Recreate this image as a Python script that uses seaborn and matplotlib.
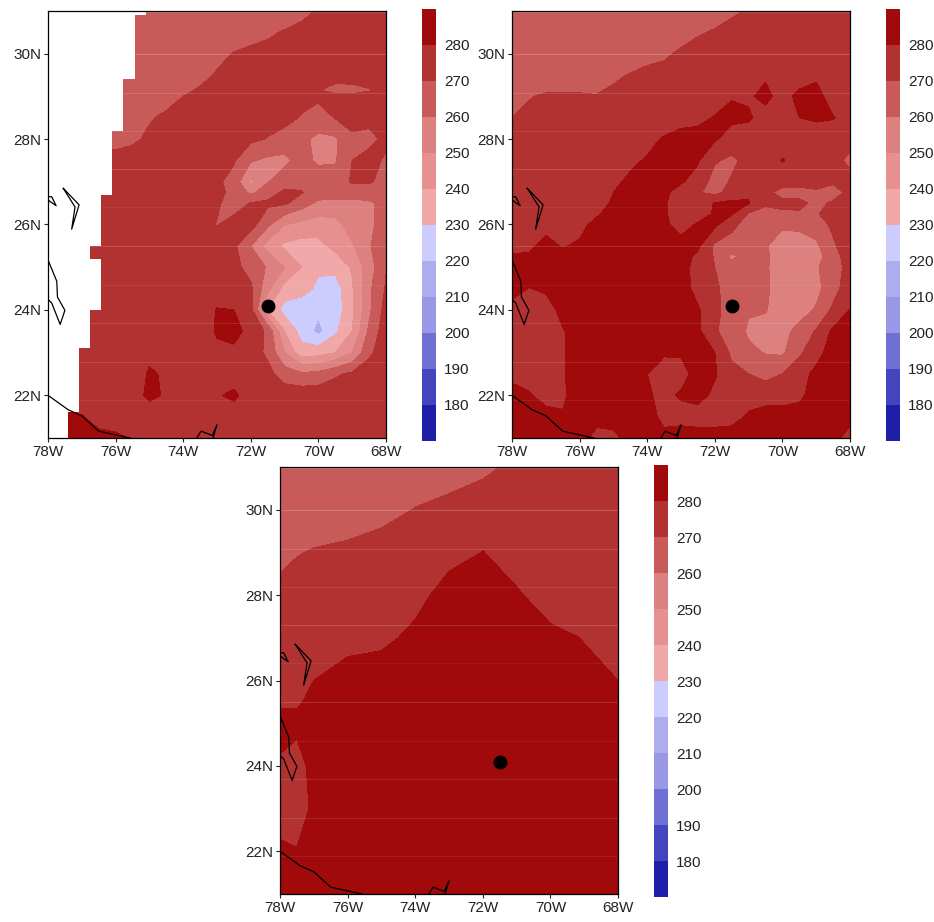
import matplotlib
matplotlib.use('Agg')
import matplotlib.pyplot as plt
import numpy as np
import seaborn as sns

levels = [170, 180, 190, 200, 210, 220, 230, 240, 250, 260, 270, 280, 290]
colors = ['#1e1ea8', '#4444bc', '#7070d4', '#9898e6', '#acacee', '#ccccff',
          '#f0a8a8', '#e69090', '#dc8080', '#c85a5a', '#b23232', '#a00a0a']
bar_ticks = [180, 190, 200, 210, 220, 230, 240, 250, 260, 270, 280]

lon_ticks = [-78, -76, -74, -72, -70, -68]
lon_labels = ['78W', '76W', '74W', '72W', '70W', '68W']
lat_ticks = [22, 24, 26, 28, 30]
lat_labels = ['22N', '24N', '26N', '28N', '30N']

storm_lon = -71.5
storm_lat = 24.1

lon_half = [-78, -77.5, -77, -76.5, -76, -75.5, -75, -74.5, -74, -73.5, -73,
            -72.5, -72, -71.5, -71, -70.5, -70, -69.5, -69, -68.5, -68]
lon_coarse = [-78, -77.5, -77, -76, -75, -74, -73, -72, -71, -70, -69, -68]

# panel 1
lat_a = [31, 30.5, 30, 29.5, 29.15, 29, 28.5, 28, 27.5, 27, 26.75, 26.5, 26, 25.5, 25,
         24.5, 24, 23.5, 23, 22.5, 22, 21.5, 21]
temp_a = [
    [265, 265, 265, 265, 265, 265, 265, 265, 265, 265, 265, 265, 265, 264, 263, 267, 271, 273, 274, 274, 274],
    [265, 265, 265, 265, 265, 265, 265, 265, 265, 265, 265, 265, 265, 268, 271, 273, 274, 274, 274, 274, 274],
    [265, 265, 265, 265, 265, 265, 265, 265, 265, 265, 267, 270.5, 273, 274, 274, 274, 274, 274, 274, 274, 274],
    [265, 265, 265, 265, 265, 265, 265, 265, 265, 267, 271, 273, 274, 274, 274, 274, 274, 274, 274, 274, 274],
    [265, 265, 265, 265, 265, 265, 265, 265.5, 268, 271, 272, 274, 274, 274, 274, 274, 270.5, 267, 267.5, 269.5, 273],
    [265, 265, 265, 265, 265, 265, 265, 266, 270, 272, 273, 274, 274, 274, 274, 274, 272, 272, 272, 272, 273],
    [265, 265, 265, 265, 265, 265, 269, 272, 274, 274, 274, 274, 274, 274, 274, 269, 265, 270.5, 273, 274, 274],
    [265, 265, 265, 265, 265, 268, 272, 275, 275, 275, 275, 275, 272, 269.5, 265, 262, 258, 258.5, 268.5, 266, 273],
    [275, 275, 275, 275, 275, 275, 275, 275, 275, 275, 275, 271, 261, 258, 258, 263, 258.5, 259, 270, 275, 268],
    [275, 275, 275, 275, 275, 275, 275, 275, 275, 275, 272, 266, 248, 259.5, 265, 268, 265, 265, 271, 271, 267],
    [275, 275, 275, 275, 275, 275, 275, 275, 275, 275, 273, 267, 258, 265, 272, 270.5, 265, 265, 265, 265, 267],
    [275, 275, 275, 275, 275, 275, 275, 275, 275, 275, 271.5, 265, 270.5, 272, 271.5, 265, 258, 257, 257, 258.5, 263],
    [275, 275, 275, 275, 275, 275, 275, 275, 275, 275, 269.5, 274, 274, 262, 250.5, 247, 245, 247, 254, 257, 266],
    [275, 275, 275, 275, 275, 275, 275, 275, 275, 275, 275, 272, 260, 246, 238, 236, 237, 243, 249, 259, 268],
    [275, 275, 275, 275, 275, 275, 275, 275, 275, 275, 275, 273, 266, 259, 250, 240, 231.5, 233, 241, 255, 269.5],
    [275, 275, 275, 275, 275, 275, 275, 275, 275, 275, 275, 275, 272, 253, 236, 234, 228, 225, 239, 258, 271],
    [275, 275, 275, 275, 275, 275, 275, 275, 275, 275, 280.5, 280, 273, 240, 226, 224, 222, 224, 238, 258, 274],
    [275, 275, 275, 275, 275, 275, 275, 275, 275, 275, 281, 283, 277, 268, 240, 226, 217, 228, 240, 262, 276],
    [275, 275, 275, 275, 275, 275, 278, 275, 275, 275, 278, 278, 275, 268, 250, 234, 236, 240, 250, 268, 276],
    [275, 275, 275, 275, 275, 275, 281, 279, 275, 275, 275, 275, 275, 273, 265, 262, 263, 268.5, 272, 275, 275],
    [275, 275, 275, 275, 275, 276, 282, 279, 275, 275, 279, 282, 275, 276, 276, 276, 276, 276, 276, 276, 276],
    [280, 282, 280.5, 276, 275, 275, 275, 275, 275, 275, 275, 275, 275, 275, 275, 275, 275, 275, 275, 275, 275],
    [285, 285, 285, 283, 282, 279, 275, 275, 275, 275, 275, 275, 275, 275, 275, 275, 275, 275, 275, 275, 275],
]

# panel 1 has no data west of this edge
missing_lat = [31, 30.9, 29.4, 28.2, 26.7, 25.5, 25.2, 24, 23.1, 21.6, 21]
missing_lon = [-75.1, -75.44, -75.77, -76.1, -76.43, -76.75, -76.43, -76.75, -77.08, -77.4, -77.4]

# panel 2
lat_b = [31, 30.5, 30, 29.5, 29, 28.5, 28, 27.5, 27, 26.75, 26.5, 26.25, 26, 25.5,
         25.25, 25, 24.5, 24, 23.5, 23, 22.5, 22, 21.5, 21]
temp_b = [
    [265, 265, 265, 265, 265, 265, 265, 265, 265, 265, 265, 265, 265, 268, 271, 274, 274, 274, 274, 274, 274],
    [265, 265, 265, 265, 265, 265, 265, 265, 265, 265, 265, 269, 271, 274, 274, 274, 274, 274, 274, 274, 274],
    [265, 265, 265, 265, 265, 265, 265, 265, 265, 268, 272, 274, 274, 274, 274, 274, 274, 274, 274, 274, 274],
    [265, 265, 265, 265, 265, 265, 268.5, 270.5, 274, 274, 274, 274, 274, 274, 274, 279, 275, 276, 278.5, 274, 274],
    [267, 269.5, 271, 271, 271, 270.5, 272, 274, 274, 274, 274, 274, 276, 279.5, 279, 282, 277, 282, 283, 276, 275],
    [270, 272, 272, 272, 272, 272, 274, 274, 274, 274, 277, 278, 280.5, 282, 281, 277, 277, 280, 281, 280.4, 277],
    [275, 275, 275, 275, 275, 275, 275, 275, 277, 281, 283, 283, 281, 276, 276, 276, 276, 276, 276, 276, 275],
    [275, 275, 275, 275, 275, 275, 275, 278, 281, 284, 284, 281, 271, 268, 273, 275, 280.5, 277, 275, 274, 267],
    [275, 275, 275, 275, 275, 275, 278, 282, 285, 285, 281, 276, 266, 271, 275, 276, 275, 276, 275, 272, 275],
    [275, 275, 275, 275, 275, 275, 280, 284, 284, 282, 276, 271, 267, 274, 279, 273, 266, 264, 268, 264, 274],
    [275, 275, 275, 275, 275, 277, 281, 285, 285, 281, 275, 275, 280.5, 282, 280.5, 272, 273, 274, 266, 272, 275],
    [275, 276, 277, 277, 277, 279, 283, 285, 285, 281, 276, 276, 281, 281, 269, 266, 268, 268, 269, 275, 276],
    [275, 276, 278, 277, 278, 282, 285, 285, 285, 282, 276, 281, 282, 273, 265, 264, 261, 262, 265, 272, 277],
    [277, 278.5, 282, 279.5, 281, 284, 285, 285, 285, 285, 284, 282, 268, 265, 264, 260.5, 257, 256, 258, 268.5, 276],
    [281, 281, 284, 283, 284, 285, 285, 285, 285, 285, 284, 278, 269, 258, 264, 261, 257, 255, 256, 266, 275],
    [284, 284, 285, 285, 285, 285, 285, 285, 285, 285, 283, 277, 270, 264, 264, 261, 256, 255, 259, 265, 274],
    [283, 279.8, 281, 283, 285, 285, 285, 285, 285, 285, 284, 277, 272, 265, 264, 261, 257, 255, 257, 266, 276],
    [277, 276, 277, 282, 285, 285, 285, 285, 285, 285, 285, 281, 274, 263, 261, 260.5, 256, 256, 261, 272, 280],
    [276, 275, 275, 279.5, 283, 285, 285, 285, 285, 285, 285, 282, 271, 266, 258.5, 257, 257, 263, 271, 282, 285],
    [276, 275, 275, 279.5, 283, 285, 285, 285, 283, 281, 281, 284, 280, 268, 262, 259.5, 258.5, 268, 277, 284, 285],
    [277, 276, 276, 279.5, 283, 285, 285, 285, 280, 276, 277, 283, 281, 273, 270, 267, 270, 277, 282, 285, 285],
    [284, 281, 276, 279, 283, 285, 285, 285, 281, 278, 281, 283, 278, 275, 277, 276, 276, 278, 284, 285, 285],
    [284, 284, 284, 280.5, 284, 283, 285, 285, 283, 278, 277, 276, 276, 277, 281, 284, 284, 284, 284, 284, 284],
    [284, 284, 284, 284, 284, 277, 277, 284, 284, 282, 284, 284, 284, 284, 284, 284, 284, 284, 284, 284, 275],
]

# panel 3
lat_c = [31, 30, 29, 28, 27, 26, 25.5, 25, 24, 23, 22, 21]
temp_c = [
    [265, 265, 265, 265, 265, 265, 265, 268, 272, 274, 275, 275],
    [265, 265, 265, 265, 267, 270.3, 273, 275, 275, 275, 275, 275],
    [267, 269.5, 270.6, 272, 274, 275, 276, 280.2, 276, 275, 275, 274],
    [273, 274, 275, 275, 275, 276, 285, 286, 281, 276, 275, 275],
    [274, 275, 275, 276, 277, 283, 287, 288, 287, 282, 279.7, 276],
    [276, 277, 280, 285, 287, 288, 288, 288, 288, 284, 282, 280],
    [278, 278.5, 283, 286, 288, 288, 288, 288, 288, 288, 288, 288],
    [285, 283, 287, 288, 288, 288, 288, 288, 288, 288, 288, 288],
    [278, 275, 284, 287, 288, 288, 288, 288, 288, 288, 288, 288],
    [275, 275, 282, 287, 288, 288, 288, 288, 288, 288, 288, 288],
    [282, 280.5, 284, 288, 288, 288, 288, 288, 288, 288, 288, 288],
    [285, 285, 285, 288, 288, 288, 288, 288, 288, 288, 288, 288],
]

coast_south_lon = [-78, -77.4, -77, -76.5, -75.57]
coast_south_lat = [22.0, 21.66, 21.52, 21.16, 21.0]
coast_cay_lon = [-73.6, -73.47, -73.14, -73, -73.12]
coast_cay_lat = [21, 21.16, 21.06, 21.31, 21.0]
island1_lon = [-77.55, -77.08, -77.3, -77.2, -77.55]
island1_lat = [26.85, 26.46, 25.89, 26.41, 26.85]
island2_lon = [-78, -77.89, -77.76, -77.94, -78]
island2_lat = [26.65, 26.65, 26.44, 26.54, 26.58]
island3_lon = [-78, -77.74, -77.72, -77.5, -77.64, -77.89, -78]
island3_lat = [25.17, 24.67, 24.3, 23.99, 23.66, 24.16, 24.25]

seam_lats = [30.97, 30, 29.09, 28.2, 27.29, 26.4, 25.49, 24.58, 23.69, 22.78, 21.9]
seam_alpha = [0.2, 0.22, 0.14, 0.1, 0.16, 0.06, 0.16, 0.07, 0.12, 0.12, 0.08]

sns.set_theme(style='ticks')
plt.rcParams['font.family'] = ['Liberation Sans', 'DejaVu Sans']
palette = sns.color_palette(colors)
cmap = matplotlib.colors.ListedColormap(palette)
norm = matplotlib.colors.BoundaryNorm(levels, cmap.N)

W, H = 934, 922
fig = plt.figure(figsize=(W / 100, H / 100), dpi=100)


def panel(x0, y0, lons, lats, temps):
    ax = fig.add_axes([x0 / W, 1 - (y0 + 427) / H, 338 / W, 427 / H])
    cf = ax.contourf(lons, lats, np.array(temps), levels=levels, cmap=cmap, norm=norm)
    for lat, a in zip(seam_lats, seam_alpha):
        ax.axhline(lat, color='white', lw=0.7, alpha=a, zorder=2)
    for xs, ys in [(coast_south_lon, coast_south_lat), (coast_cay_lon, coast_cay_lat),
                   (island1_lon, island1_lat), (island2_lon, island2_lat),
                   (island3_lon, island3_lat)]:
        ax.plot(xs, ys, color='black', lw=0.9, zorder=4)
    ax.scatter([storm_lon], [storm_lat], s=100, color='black', zorder=5, linewidths=0)
    ax.set_xlim(-78, -68)
    ax.set_ylim(21, 31)
    ax.set_xticks(lon_ticks, lon_labels)
    ax.set_yticks(lat_ticks, lat_labels)
    ax.tick_params(labelsize=11, length=3, width=0.8, pad=2, colors='#222222')
    for s in ax.spines.values():
        s.set_linewidth(0.9)
        s.set_color('black')
        s.set_zorder(6)
    cax = fig.add_axes([(x0 + 374) / W, 1 - (y0 + 430) / H, 14 / W, 432 / H])
    cb = fig.colorbar(cf, cax=cax, ticks=bar_ticks, spacing='proportional')
    cb.ax.minorticks_off()
    cb.ax.tick_params(which='both', labelsize=11, length=0, pad=6, colors='#222222')
    cb.outline.set_visible(False)
    return ax


ax1 = panel(48, 11, lon_half, lat_a, temp_a)
ax1.fill_betweenx(missing_lat, -78, missing_lon, step='post', color='white', lw=0, zorder=3)
panel(512, 11, lon_half, lat_b, temp_b)
panel(280, 467, lon_coarse, lat_c, temp_c)

fig.savefig('out.png', dpi=100)
